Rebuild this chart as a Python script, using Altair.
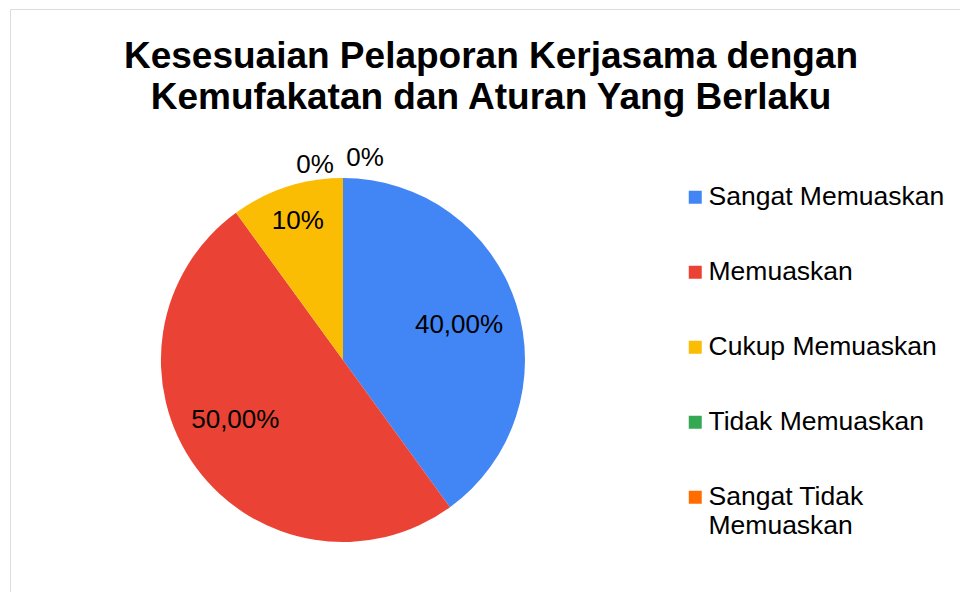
import altair as alt
import pandas as pd

# ---- data ----
kategori = ["Sangat Memuaskan", "Memuaskan", "Cukup Memuaskan",
            "Tidak Memuaskan", "Sangat Tidak Memuaskan"]
nilai = [40, 50, 10, 0, 0]
label = ["40,00%", "50,00%", "10%", "0%", "0%"]
warna = ["#4285F4", "#EA4335", "#FBBC04", "#34A853", "#FF6D01"]
judul = ["Kesesuaian Pelaporan Kerjasama dengan",
         "Kemufakatan dan Aturan Yang Berlaku"]

df = pd.DataFrame({
    "kategori": kategori,
    "nilai": nilai,
    "label": label,
    "urutan": list(range(len(kategori))),
})

FONT = "Liberation Sans"
CX, CY = 333, 351
R = 182

base = (
    alt.Chart(df)
    .transform_window(kumulatif="sum(nilai)", sort=[alt.SortField("urutan")])
    .transform_calculate(tengah="datum.kumulatif - datum.nilai / 2")
)

legend = alt.Legend(
    title=None, orient="none", legendX=672, legendY=175, padding=0,
    symbolType="square", symbolSize=169, symbolStrokeWidth=0,
    labelFontSize=26.5, labelFont=FONT, labelColor="black", labelLimit=400,
    labelOffset=0, rowPadding=48,
    labelExpr="datum.label == 'Sangat Tidak Memuaskan' ? ['Sangat Tidak', 'Memuaskan'] : datum.label",
)

pie = base.mark_arc(outerRadius=R).encode(
    theta=alt.Theta("nilai:Q", stack=True, scale=alt.Scale(domain=[0, 100])),
    color=alt.Color("kategori:N", scale=alt.Scale(domain=kategori, range=warna),
                    legend=legend, sort=kategori),
    order=alt.Order("urutan:Q"),
    x=alt.value(CX), y=alt.value(CY),
)


def teks(kat, radius, dx=0, dy=0):
    return base.transform_filter(
        alt.FieldOneOfPredicate(field="kategori", oneOf=kat)
    ).mark_text(fontSize=26, font=FONT, color="black", dx=dx, dy=dy).encode(
        theta=alt.Theta("tengah:Q", stack=None),
        radius=alt.value(radius),
        text="label:N",
        x=alt.value(CX), y=alt.value(CY),
    )


labels = [
    teks(["Sangat Memuaskan"], 122, dy=3),
    teks(["Memuaskan"], 122, dx=-9, dy=-12),
    teks(["Cukup Memuaskan"], 146),
    teks(["Tidak Memuaskan"], 198, dx=-28, dy=3),
    teks(["Sangat Tidak Memuaskan"], 198, dx=22, dy=-4),
]

chart = alt.layer(pie, *labels).properties(
    width=950, height=583,
    autosize="none",
    padding={"left": 10, "top": 9, "right": 0, "bottom": 0},
    title=alt.TitleParams(
        text=judul, fontSize=37, font=FONT, fontWeight="bold", color="black",
        anchor="middle", frame="group", offset=-108, lineHeight=41, dx=6,
    ),
).configure_view(
    stroke="#a8a8a8", strokeWidth=2
).configure(background="white")

chart.save("out.html", embed_options={"renderer": "svg", "actions": False})
